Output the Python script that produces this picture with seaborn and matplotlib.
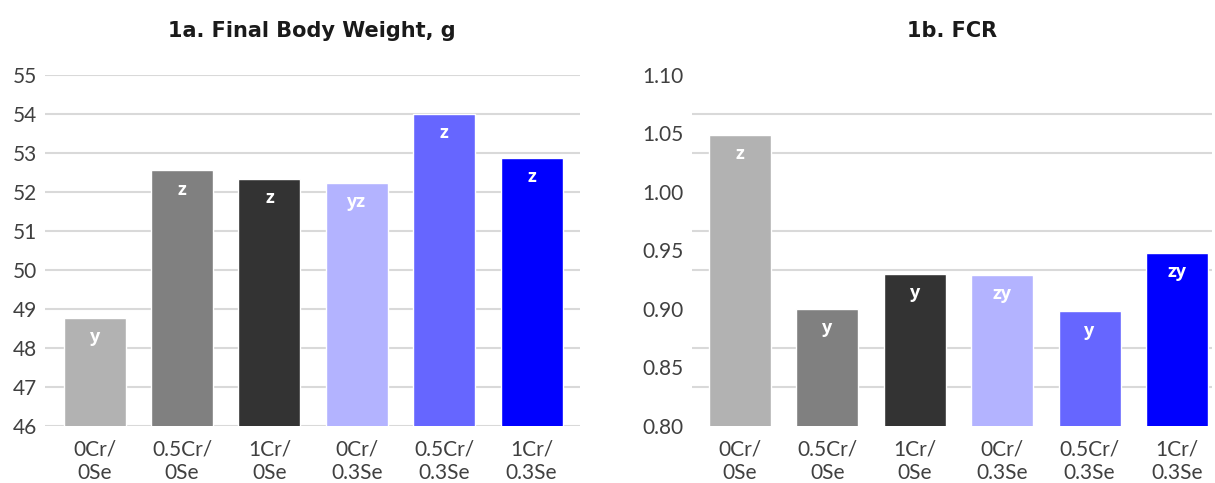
import numpy as np
import pandas as pd
import matplotlib
matplotlib.use("Agg")
import matplotlib.pyplot as plt
import seaborn as sns

# Treatment groups (Cr / Se supplementation levels)
groups = ["0Cr/\n0Se", "0.5Cr/\n0Se", "1Cr/\n0Se", "0Cr/\n0.3Se", "0.5Cr/\n0.3Se", "1Cr/\n0.3Se"]

# Final body weight, g
body_weight = [48.78, 52.56, 52.33, 52.23, 54.00, 52.87]
bw_letters = ["y", "z", "z", "yz", "z", "z"]

# Feed conversion ratio
fcr = [1.049, 0.900, 0.930, 0.929, 0.898, 0.948]
fcr_letters = ["z", "y", "y", "zy", "y", "zy"]

colors = ["#b2b2b2", "#808080", "#333333", "#b3b3ff", "#6666ff", "#0000ff"]

sns.set_theme(style="white")
plt.rcParams["font.family"] = ["Lato", "DejaVu Sans"]

fig = plt.figure(figsize=(12.15, 4.83), dpi=100)
ax1 = fig.add_axes([0.037, 0.118, 0.440, 0.727])
ax2 = fig.add_axes([0.5695, 0.118, 0.428, 0.727])

text_color = "#404040"
grid_color = "#d9d9d9"


def draw_panel(ax, values, letters, title):
    df = pd.DataFrame({"group": groups, "value": values})
    sns.barplot(data=df, x="group", y="value", hue="group", palette=colors,
                width=0.71, legend=False, ax=ax, saturation=1)
    for i, (v, lab) in enumerate(zip(values, letters)):
        ax.annotate(lab, xy=(i, v), xytext=(0, -14), textcoords="offset points",
                    ha="center", va="center", color="white", fontsize=13,
                    fontweight="bold", family=["Open Sans", "DejaVu Sans"])
    ax.set_title(title, fontsize=15, fontweight="bold", color="#1a1a1a",
                 pad=27, family=["DejaVu Sans"])
    ax.set_xlabel("")
    ax.set_ylabel("")
    for s in ax.spines.values():
        s.set_visible(False)
    ax.tick_params(axis="both", length=0, labelsize=15, labelcolor=text_color)
    ax.tick_params(axis="y", pad=6)
    ax.tick_params(axis="x", pad=10)
    ax.set_axisbelow(True)


draw_panel(ax1, body_weight, bw_letters, "1a. Final Body Weight, g")
ax1.set_ylim(46, 55)
ax1.set_yticks(np.arange(46, 56, 1))
ax1.yaxis.grid(True, color=grid_color, linewidth=1.5)
ax1.set_xlim(-0.57, 5.55)

draw_panel(ax2, fcr, fcr_letters, "1b. FCR")
ax2.set_ylim(0.80, 1.10)
ax2.set_yticks(np.arange(0.80, 1.101, 0.05))
ax2.set_yticklabels([f"{t:.2f}" for t in np.arange(0.80, 1.101, 0.05)])
ax2.set_yticks(np.linspace(0.80, 1.10, 10), minor=True)
ax2.tick_params(axis="y", which="minor", length=0)
ax2.yaxis.grid(True, which="minor", color=grid_color, linewidth=1.5)
ax2.yaxis.grid(False, which="major")
ax2.set_xlim(-0.55, 5.4)

fig.savefig("out.png", dpi=100, facecolor="white")
